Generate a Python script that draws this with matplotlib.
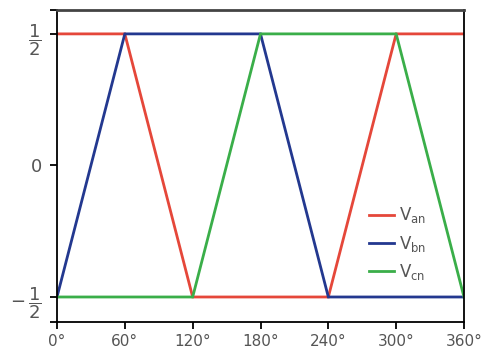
import numpy as np
import matplotlib.pyplot as plt

plt.rcParams['mathtext.fontset'] = 'dejavusans'

# --- Data: phase voltages vs angle ---
theta = [0, 60, 120, 180, 240, 300, 360]
v_an = [0.5, 0.5, -0.5, -0.5, -0.5, 0.5, 0.5]
v_bn = [-0.5, 0.5, 0.5, 0.5, -0.5, -0.5, -0.5]
v_cn = [-0.5, -0.5, -0.5, 0.5, 0.5, 0.5, -0.5]
labels = [r'V$_{\rm an}$', r'V$_{\rm bn}$', r'V$_{\rm cn}$']
colors = ['#e5473a', '#23388f', '#3aae49']

xticks = [0, 60, 120, 180, 240, 300, 360]
xlabels = [f'{t}°' for t in xticks]

fig = plt.figure(figsize=(5, 3.55), dpi=100)
ax = fig.add_axes([0.114, 0.093, 0.814, 0.879])

for y, lab, col in zip([v_an, v_bn, v_cn], labels, colors):
    ax.plot(theta, y, color=col, lw=2.0, label=lab, solid_joinstyle='miter')

ax.set_xlim(0, 360)
ax.set_ylim(-0.595, 0.591)

ax.set_xticks(xticks)
ax.set_xticklabels(xlabels)
ax.set_yticks([-0.595, -0.5, 0, 0.5, 0.591])
ax.set_yticklabels(['', r'$-\,\dfrac{1}{2}$', '0', r'$\dfrac{1}{2}$', ''])
ax.tick_params(axis='both', direction='out', length=5, width=1.3,
               labelsize=11, labelcolor='#555555', pad=4)
ax.tick_params(axis='y', labelsize=13, pad=6)

for s in ['left', 'bottom', 'right']:
    ax.spines[s].set_linewidth(1.3)
    ax.spines[s].set_color('black')
ax.spines['top'].set_linewidth(2)
ax.spines['top'].set_color('#444444')

leg = ax.legend(loc='lower left', bbox_to_anchor=(0.73, 0.08), frameon=False,
                handlelength=1.5, handletextpad=0.3, labelspacing=0.5,
                fontsize=12)
for t in leg.get_texts():
    t.set_color('#555555')

fig.savefig('out.png', dpi=100)
